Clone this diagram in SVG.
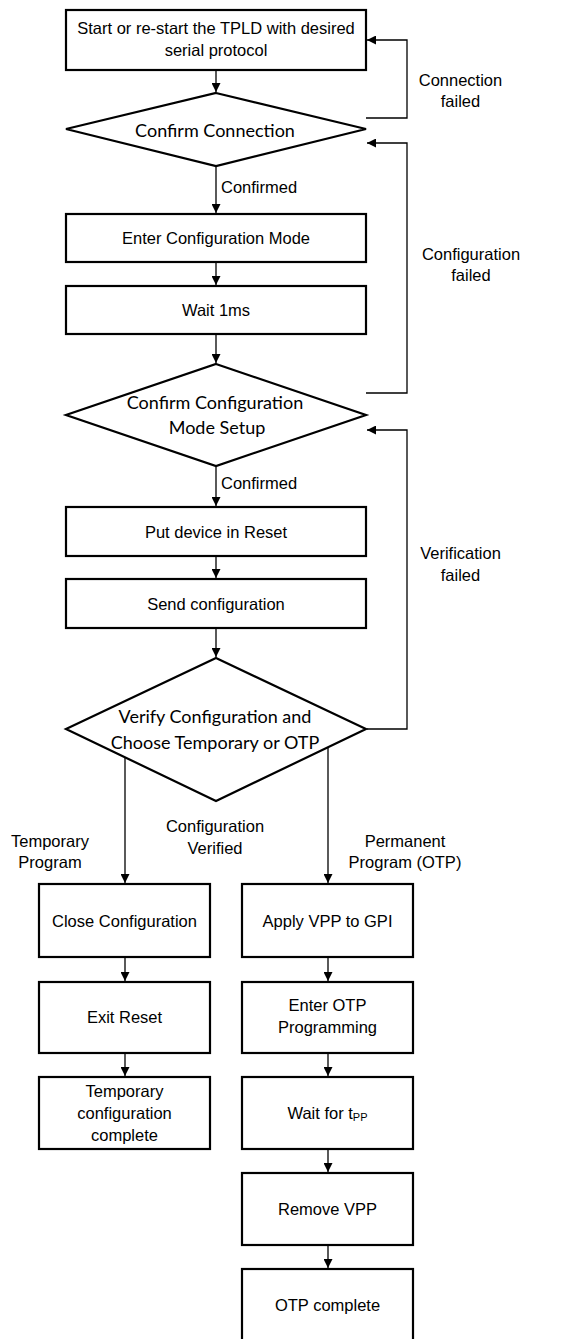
<svg xmlns="http://www.w3.org/2000/svg" width="588" height="1339" viewBox="0 0 588 1339">
<style>
.box{fill:#fff;stroke:#000;stroke-width:2.2}
.dia{fill:#fff;stroke:#000;stroke-width:2.2;stroke-linejoin:miter}
.t{font-family:"Liberation Sans",Arial,sans-serif;font-size:16.5px;fill:#000;text-anchor:middle}
.c{font-family:Lato,"Noto Sans",sans-serif;font-size:18px;fill:#000;text-anchor:middle}
.lbl{font-family:"Liberation Sans",Arial,sans-serif;font-size:16.5px;fill:#000}
.con{fill:none;stroke:#000;stroke-width:1.3}
</style>
<defs>
<marker id="ah" viewBox="0 0 10 10" refX="10" refY="5" markerWidth="10" markerHeight="9" markerUnits="userSpaceOnUse" orient="auto">
<path d="M0,0 L10,5 L0,10 z" fill="#000"/>
</marker>
</defs>
<rect width="588" height="1339" fill="#fff"/>
<g id="connectors">
<path class="con" d="M216,71 V92" marker-end="url(#ah)"/>
<path class="con" d="M216,167 V213" marker-end="url(#ah)"/>
<path class="con" d="M216,263 V285" marker-end="url(#ah)"/>
<path class="con" d="M216,335 V363" marker-end="url(#ah)"/>
<path class="con" d="M216,467 V506" marker-end="url(#ah)"/>
<path class="con" d="M216,557 V578" marker-end="url(#ah)"/>
<path class="con" d="M216,629 V657" marker-end="url(#ah)"/>
<path class="con" d="M366,118 H407 V40 H367" marker-end="url(#ah)"/>
<path class="con" d="M366,393 H407 V143 H367" marker-end="url(#ah)"/>
<path class="con" d="M367,729 H407 V430 H367" marker-end="url(#ah)"/>
<path class="con" d="M125,757 V883" marker-end="url(#ah)"/>
<path class="con" d="M328,747 V883" marker-end="url(#ah)"/>
<path class="con" d="M125,958 V981" marker-end="url(#ah)"/>
<path class="con" d="M125,1054 V1076" marker-end="url(#ah)"/>
<path class="con" d="M328,958 V981" marker-end="url(#ah)"/>
<path class="con" d="M328,1054 V1076" marker-end="url(#ah)"/>
<path class="con" d="M328,1150 V1172" marker-end="url(#ah)"/>
<path class="con" d="M328,1246 V1268" marker-end="url(#ah)"/>
<text class="lbl" x="221" y="193">Confirmed</text>
<text class="lbl" x="221" y="489">Confirmed</text>
<text class="t" x="460.5" y="86">Connection</text>
<text class="t" x="460.5" y="107">failed</text>
<text class="t" x="471" y="260">Configuration</text>
<text class="t" x="471" y="281">failed</text>
<text class="t" x="460.5" y="559">Verification</text>
<text class="t" x="460.5" y="581">failed</text>
<text class="t" x="50" y="847">Temporary</text>
<text class="t" x="50" y="868">Program</text>
<text class="t" x="215" y="832">Configuration</text>
<text class="t" x="215" y="854">Verified</text>
<text class="t" x="405" y="847">Permanent</text>
<text class="t" x="405" y="868">Program (OTP)</text>
</g>
<g id="n-start">
<rect class="box" x="66" y="10" width="300" height="60"/>
<text class="t" x="216" y="34">Start or re-start the TPLD with desired</text>
<text class="t" x="216" y="56">serial protocol</text>
</g>
<g id="n-confirm-conn">
<polygon class="dia" points="216,93 366,129 216,166 66,129"/>
<text class="c" x="215" y="136.5">Confirm Connection</text>
</g>
<g id="n-enter-config">
<rect class="box" x="66" y="214" width="300" height="48"/>
<text class="t" x="216" y="244">Enter Configuration Mode</text>
</g>
<g id="n-wait">
<rect class="box" x="66" y="286" width="300" height="48"/>
<text class="t" x="216" y="316">Wait 1ms</text>
</g>
<g id="n-confirm-mode">
<polygon class="dia" points="216,364 366,415 216,466 66,415"/>
<text class="c" x="215" y="408.5">Confirm Configuration</text>
<text class="c" x="217" y="434">Mode Setup</text>
</g>
<g id="n-reset">
<rect class="box" x="66" y="507" width="300" height="49"/>
<text class="t" x="216" y="537.5">Put device in Reset</text>
</g>
<g id="n-send">
<rect class="box" x="66" y="579" width="300" height="49"/>
<text class="t" x="216" y="609.5">Send configuration</text>
</g>
<g id="n-verify">
<polygon class="dia" points="216,658 366,729 216,801 66,729"/>
<text class="c" x="215" y="723">Verify Configuration and</text>
<text class="c" x="215" y="749">Choose Temporary or OTP</text>
</g>
<g id="n-close">
<rect class="box" x="39" y="884" width="171" height="73"/>
<text class="t" x="124.5" y="927">Close Configuration</text>
</g>
<g id="n-exit">
<rect class="box" x="39" y="982" width="171" height="71"/>
<text class="t" x="124.5" y="1023">Exit Reset</text>
</g>
<g id="n-temp-done">
<rect class="box" x="39" y="1077" width="171" height="72"/>
<text class="t" x="124.5" y="1097">Temporary</text>
<text class="t" x="124.5" y="1119">configuration</text>
<text class="t" x="124.5" y="1141">complete</text>
</g>
<g id="n-vpp">
<rect class="box" x="242" y="884" width="171" height="73"/>
<text class="t" x="327.5" y="927">Apply VPP to GPI</text>
</g>
<g id="n-otp-enter">
<rect class="box" x="242" y="982" width="171" height="71"/>
<text class="t" x="327.5" y="1011">Enter OTP</text>
<text class="t" x="327.5" y="1033">Programming</text>
</g>
<g id="n-wait-tpp">
<rect class="box" x="242" y="1077" width="171" height="72"/>
<text class="t" x="327.5" y="1119">Wait for t<tspan font-size="11" dy="2">PP</tspan></text>
</g>
<g id="n-remove">
<rect class="box" x="242" y="1173" width="171" height="72"/>
<text class="t" x="327.5" y="1215">Remove VPP</text>
</g>
<g id="n-otp-done">
<rect class="box" x="242" y="1269" width="171" height="73"/>
<text class="t" x="327.5" y="1311">OTP complete</text>
</g>
</svg>
